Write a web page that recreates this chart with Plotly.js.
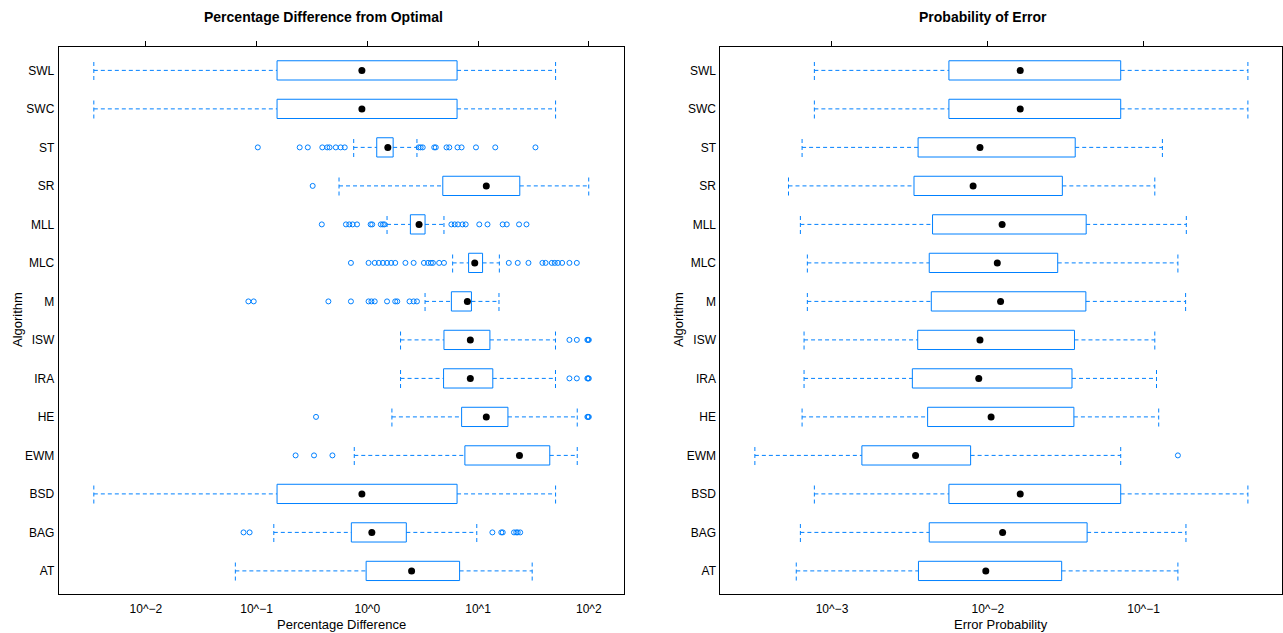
<!DOCTYPE html>
<html>
<head>
<meta charset="utf-8">
<script src="https://cdn.plot.ly/plotly-3.0.1.min.js"></script>
<style>html,body{margin:0;padding:0;background:#fff;}#chart{width:1283px;height:633px;}</style>
</head>
<body>
<div id="chart"></div>
<script>
// ---- data ----
var categories = ['AT','BAG','BSD','EWM','HE','IRA','ISW','M','MLC','MLL','SR','ST','SWC','SWL'];

// Percentage Difference from Optimal
var pdLow  = [0.0643, 0.143, 0.00339, 0.762, 1.667, 1.995, 1.995, 3.32, 5.89, 1.506, 0.555, 0.753, 0.00339, 0.00339];
var pdQ1   = [0.975, 0.717, 0.153, 7.60, 7.10, 4.88, 4.92, 5.74, 8.21, 2.447, 4.80, 1.216, 0.153, 0.153];
var pdMed  = [2.51, 1.098, 0.893, 23.64, 11.86, 8.51, 8.51, 8.00, 9.33, 2.93, 11.86, 1.531, 0.893, 0.893];
var pdQ3   = [6.81, 2.249, 6.46, 44.4, 18.6, 13.58, 12.79, 8.71, 10.98, 3.32, 23.8, 1.710, 6.46, 6.46];
var pdHigh = [30.8, 9.73, 50.1, 78.6, 78.6, 50.0, 50.0, 15.44, 15.56, 4.92, 99.8, 2.805, 50.1, 50.1];
var pdOutliers = [
  [],
  [0.0762, 0.0865, 13.46, 16.2, 16.7, 21.1, 22.1, 22.8, 24.0],
  [],
  [0.225, 0.330, 0.484],
  [0.344, 97.0, 98.5, 100],
  [66.8, 77.9, 97.0, 98.5, 100],
  [66.8, 77.9, 97.0, 98.5, 100],
  [0.0843, 0.0942, 0.445, 0.711, 1.026, 1.089, 1.166, 1.506, 1.786, 1.862, 2.404, 2.618, 2.805],
  [0.711, 1.026, 1.166, 1.270, 1.383, 1.506, 1.640, 1.786, 2.208, 2.618, 3.243, 3.532, 3.75, 3.91, 4.45, 4.92,
   18.93, 22.8, 28.5, 38.1, 40.7, 46.3, 49.2, 52.6, 57.4, 66.8, 77.9],
  [0.388, 0.641, 0.687, 0.736, 0.807, 1.071, 1.107, 1.324, 1.382, 1.429,
   5.74, 6.15, 6.58, 7.23, 7.73, 10.25, 12.16, 16.67, 18.16, 23.44, 27.35],
  [0.321],
  [0.1026, 0.245, 0.290, 0.392, 0.434, 0.456, 0.519, 0.574, 0.625,
   2.904, 3.027, 3.162, 4.018, 4.150, 5.188, 5.495, 6.516, 7.096, 9.572, 14.29, 32.96],
  [],
  []
];

// Probability of Error
var peLow  = [5.90e-4, 6.27e-4, 7.71e-4, 3.20e-4, 6.43e-4, 6.62e-4, 6.62e-4, 6.95e-4, 6.95e-4, 6.27e-4, 5.26e-4, 6.43e-4, 7.71e-4, 7.71e-4];
var peQ1   = [3.59e-3, 4.21e-3, 5.63e-3, 1.556e-3, 4.11e-3, 3.28e-3, 3.55e-3, 4.34e-3, 4.21e-3, 4.42e-3, 3.36e-3, 3.57e-3, 5.63e-3, 5.63e-3];
var peMed  = [9.71e-3, 0.01245, 0.01615, 3.44e-3, 0.0105, 8.75e-3, 8.91e-3, 0.01208, 0.01151, 0.01236, 8.05e-3, 8.91e-3, 0.01615, 0.01615];
var peQ3   = [0.0298, 0.0434, 0.0713, 7.76e-3, 0.0357, 0.0347, 0.0360, 0.0426, 0.0281, 0.0428, 0.0301, 0.0364, 0.0713, 0.0713];
var peHigh = [0.166, 0.187, 0.467, 0.0713, 0.125, 0.121, 0.118, 0.186, 0.166, 0.188, 0.118, 0.132, 0.467, 0.467];
var peOutliers = [[], [], [], [0.166], [], [], [], [], [], [], [], [], [], []];

var xTickVals = [0.001, 0.01, 0.1, 1, 10, 100];
var xTickText = ['10^\u22123', '10^\u22122', '10^\u22121', '10^0', '10^1', '10^2'];

// ---- drawing ----
var BLUE = '#0080ff';
var HALF = 0.25;

function panelTraces(xa, ya, low, q1, med, q3, high, outs) {
  var bx = [], by = [], wx = [], wy = [], ox = [], oy = [], my = [];
  for (var i = 0; i < categories.length; i++) {
    bx.push(q1[i], q3[i], q3[i], q1[i], q1[i], null);
    by.push(i - HALF, i - HALF, i + HALF, i + HALF, i - HALF, null);
    wx.push(low[i], q1[i], null, q3[i], high[i], null, low[i], low[i], null, high[i], high[i], null);
    wy.push(i, i, null, i, i, null, i - HALF, i + HALF, null, i - HALF, i + HALF, null);
    for (var k = 0; k < outs[i].length; k++) { ox.push(outs[i][k]); oy.push(i); }
    my.push(i);
  }
  var common = {xaxis: xa, yaxis: ya, hoverinfo: 'skip', showlegend: false, cliponaxis: true};
  return [
    Object.assign({type: 'scatter', mode: 'lines', x: wx, y: wy,
      line: {color: BLUE, width: 1, dash: '4px,3px'}}, common),
    Object.assign({type: 'scatter', mode: 'lines', x: bx, y: by,
      line: {color: BLUE, width: 1}}, common),
    Object.assign({type: 'scatter', mode: 'markers', x: ox, y: oy,
      marker: {symbol: 'circle-open', size: 5, color: BLUE, line: {width: 1, color: BLUE}}}, common),
    Object.assign({type: 'scatter', mode: 'markers', x: med, y: my,
      marker: {symbol: 'circle', size: 7, color: 'black'}}, common)
  ];
}

var data = [].concat(
  panelTraces('x', 'y', pdLow, pdQ1, pdMed, pdQ3, pdHigh, pdOutliers),
  panelTraces('x2', 'y2', peLow, peQ1, peMed, peQ3, peHigh, peOutliers),
  [{type: 'scatter', mode: 'markers', x: [1], y: [-10], xaxis: 'x3', yaxis: 'y', hoverinfo: 'skip', showlegend: false, marker: {opacity: 0}},
   {type: 'scatter', mode: 'markers', x: [0.01], y: [-10], xaxis: 'x4', yaxis: 'y2', hoverinfo: 'skip', showlegend: false, marker: {opacity: 0}}]
);

var FONT = 'Liberation Sans, Arial, Helvetica, sans-serif';
var yDom = [0.0616, 0.9253];
var leftDom = [0.04575, 0.48605];
var rightDom = [0.5615, 0.9992];
var leftRange = [-2.787, 2.314];
var rightRange = [-3.716, -0.112];

function xBottom(dom, rng, anchor) {
  return {domain: dom, anchor: anchor, type: 'log', range: rng, tickvals: xTickVals, ticktext: xTickText,
    ticks: '', showgrid: false, zeroline: false, showline: true, mirror: true, linecolor: 'black', linewidth: 1,
    tickfont: {family: FONT, size: 12, color: 'black'}, ticklabelstandoff: 4, fixedrange: true};
}
function xTop(over, rng, anchor) {
  return {overlaying: over, anchor: anchor, side: 'top', type: 'log', range: rng, tickvals: xTickVals,
    ticks: 'outside', ticklen: 5, tickcolor: 'black', tickwidth: 1, showticklabels: false,
    showgrid: false, zeroline: false, showline: false, fixedrange: true};
}
function yAx(anchor) {
  return {domain: yDom, anchor: anchor, range: [-0.6, 13.6], tickvals: categories.map(function(c, i){return i;}),
    ticktext: categories, ticks: '', showgrid: false, zeroline: false, showline: true, mirror: true,
    linecolor: 'black', linewidth: 1, tickfont: {family: FONT, size: 12, color: 'black'}, ticklabelstandoff: 1, fixedrange: true};
}

var layout = {
  width: 1283, height: 633,
  margin: {l: 0, r: 0, t: 0, b: 0},
  paper_bgcolor: 'white', plot_bgcolor: 'white',
  font: {family: FONT, color: 'black'},
  hovermode: false,
  xaxis: xBottom(leftDom, leftRange, 'y'),
  xaxis2: xBottom(rightDom, rightRange, 'y2'),
  xaxis3: xTop('x', leftRange, 'y'),
  xaxis4: xTop('x2', rightRange, 'y2'),
  yaxis: yAx('x'),
  yaxis2: yAx('x2'),
  annotations: [
    {text: '<b>Percentage Difference from Optimal</b>', xref: 'paper', yref: 'paper', x: 323/1283, y: 1 - 17/633,
     xanchor: 'center', yanchor: 'middle', showarrow: false, font: {family: FONT, size: 14, color: 'black'}},
    {text: '<b>Probability of Error</b>', xref: 'paper', yref: 'paper', x: 983/1283, y: 1 - 17/633,
     xanchor: 'center', yanchor: 'middle', showarrow: false, font: {family: FONT, size: 14, color: 'black'}},
    {text: 'Percentage Difference', xref: 'paper', yref: 'paper', x: 341/1283, y: 1 - 624/633,
     xanchor: 'center', yanchor: 'middle', showarrow: false, font: {family: FONT, size: 13, color: 'black'}},
    {text: 'Error Probability', xref: 'paper', yref: 'paper', x: 1001/1283, y: 1 - 624/633,
     xanchor: 'center', yanchor: 'middle', showarrow: false, font: {family: FONT, size: 13, color: 'black'}},
    {text: 'Algorithm', xref: 'paper', yref: 'paper', x: 17/1283, y: 1 - 320/633, textangle: -90,
     xanchor: 'center', yanchor: 'middle', showarrow: false, font: {family: FONT, size: 13, color: 'black'}},
    {text: 'Algorithm', xref: 'paper', yref: 'paper', x: 678/1283, y: 1 - 320/633, textangle: -90,
     xanchor: 'center', yanchor: 'middle', showarrow: false, font: {family: FONT, size: 13, color: 'black'}}
  ]
};

Plotly.newPlot('chart', data, layout, {staticPlot: true, displayModeBar: false});
</script>
</body>
</html>
